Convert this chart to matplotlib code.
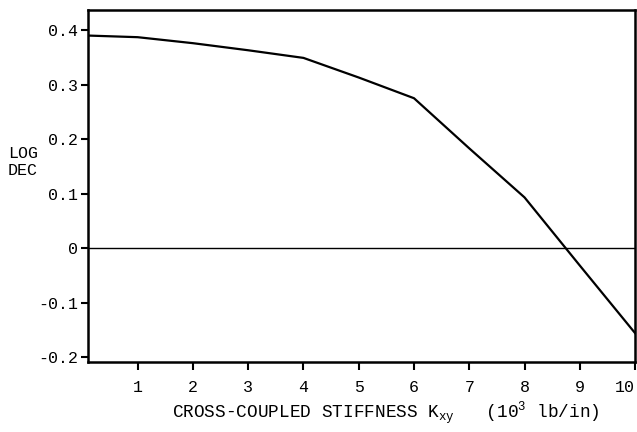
import matplotlib

matplotlib.use("Agg")
import matplotlib.pyplot as plt

# Log decrement vs cross-coupled stiffness
stiffness = [0.1, 1, 2, 3, 4, 5, 6, 7, 8, 9, 10]
log_dec = [0.390, 0.387, 0.376, 0.363, 0.349, 0.313, 0.275, 0.183, 0.093, -0.032, -0.156]

x_ticks = [1, 2, 3, 4, 5, 6, 7, 8, 9, 10]
y_ticks = [-0.2, -0.1, 0, 0.1, 0.2, 0.3, 0.4]
y_tick_labels = ["-0.2", "-0.1", "0", "0.1", "0.2", "0.3", "0.4"]

plt.rcParams["font.family"] = ["Liberation Mono", "DejaVu Sans Mono"]
plt.rcParams["mathtext.fontset"] = "custom"
plt.rcParams["mathtext.rm"] = "Liberation Mono"

fig = plt.figure(figsize=(6.37, 4.32), dpi=100)
ax = fig.add_axes([0.138, 0.162, 0.859, 0.815])

ax.plot(stiffness, log_dec, color="black", linewidth=1.6, solid_joinstyle="round")
ax.axhline(0, color="black", linewidth=1.0)

ax.set_xlim(0.1, 10)
ax.set_ylim(-0.209, 0.437)

ax.set_xticks(x_ticks)
ax.set_xticklabels([str(t) for t in x_ticks], fontsize=12)
ax.set_yticks(y_ticks)
ax.set_yticklabels(y_tick_labels, fontsize=12)
ax.tick_params(axis="x", direction="out", length=6, width=1.5, pad=7)
ax.tick_params(axis="y", direction="out", length=5, width=1.5, pad=2)
# last x label sits flush with the right edge, as in the original
ax.get_xticklabels()[-1].set_horizontalalignment("right")

for spine in ax.spines.values():
    spine.set_linewidth(1.8)

fig.text(0.036, 0.625, "LOG\nDEC", ha="center", va="center", fontsize=12,
         linespacing=1.1)
fig.text(0.606, 0.046,
         r"CROSS-COUPLED STIFFNESS K$_\mathregular{xy}$   (10$^\mathregular{3}$ lb/in)",
         ha="center", va="center", fontsize=12.8)

fig.savefig("out.png", dpi=100)
plt.close(fig)
